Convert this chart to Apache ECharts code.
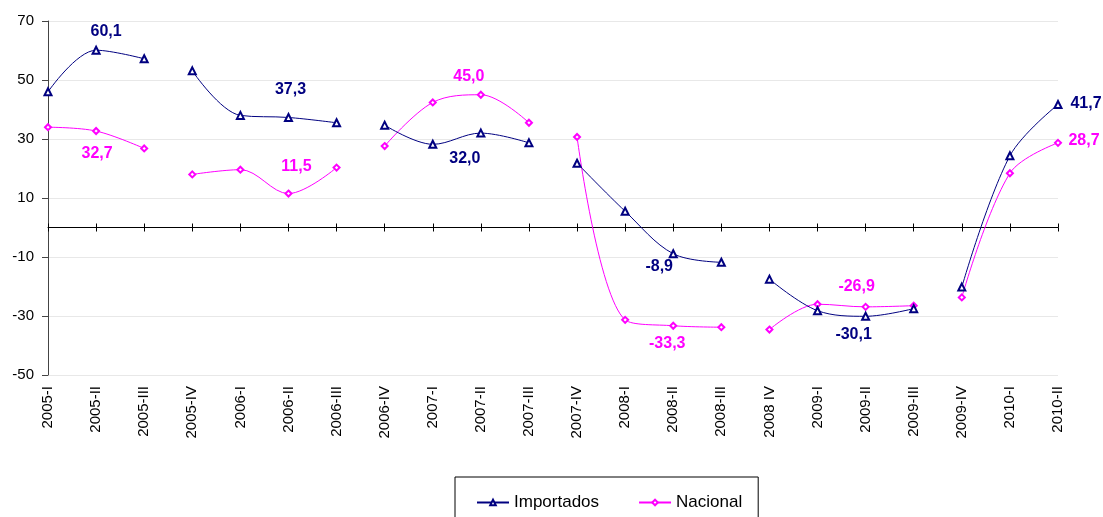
<!DOCTYPE html>
<html>
<head>
<meta charset="utf-8">
<script src="https://cdn.jsdelivr.net/npm/echarts@6/dist/echarts.min.js"></script>
<style>
  html, body { margin: 0; padding: 0; background: #fff; }
  #char { width: 1103px; height: 517px; }
</style>
</head>
<body>
<div id="char"></div>
<script>
var categories = ['2005-I', '2005-II', '2005-III', '2005-IV', '2006-I', '2006-II', '2006-III',
  '2006-IV', '2007-I', '2007-II', '2007-III', '2007-IV', '2008-I', '2008-II', '2008-III',
  '2008 IV', '2009-I', '2009-II', '2009-III', '2009-IV', '2010-I', '2010-II'];
var importados = [46.0, 60.1, 57.2, 53.1, 38.0, 37.3, 35.5, 34.7, 28.2, 32.0, 28.7,
  21.8, 5.5, -8.9, -11.8, -17.5, -28.2, -30.1, -27.5, -20.2, 24.3, 41.7];
var nacional = [34.0, 32.7, 26.8, 18.0, 19.6, 11.5, 20.3, 27.6, 42.4, 45.0, 35.5,
  30.7, -31.3, -33.3, -33.8, -34.6, -26.0, -26.9, -26.5, -23.7, 18.4, 28.7];
// tramos (la linea se corta entre el III y el IV trimestre)
var segments = [[0, 2], [3, 6], [7, 10], [11, 14], [15, 18], [19, 21]];
var yTicks = { min: -50, max: 70, interval: 20 };

// donde va cada etiqueta de valor (desplazamiento respecto al punto)
var labelOffsets = {
  Importados: { 1: [10, -19], 5: [2, -28], 9: [-16, 25], 13: [-14, 13], 17: [-12, 18], 21: [28, -1] },
  Nacional: { 1: [1, 23], 5: [8, -27], 9: [-12, -18], 13: [-6, 18], 17: [-9, -20], 21: [26, -2] }
};

var colors = { Importados: '#000080', Nacional: '#ff00ff' };
var symbols = { Importados: 'emptyTriangle', Nacional: 'emptyDiamond' };
var font = 'Liberation Sans, Arial, sans-serif';

function fmt(v) {
  return v.toFixed(1).replace('.', ',');
}

function buildSeries(name, values) {
  var out = [];
  segments.forEach(function (seg) {
    var data = values.map(function (v, i) {
      if (i < seg[0] || i > seg[1]) return null;
      var off = labelOffsets[name][i];
      if (!off) return v;
      return {
        value: v,
        label: {
          show: true,
          position: 'inside',
          offset: off,
          formatter: function (p) { return fmt(p.value); },
          color: colors[name],
          fontFamily: font,
          fontWeight: 'bold',
          fontSize: 16
        }
      };
    });
    out.push({
      name: name,
      type: 'line',
      data: data,
      smooth: 0.35,
      connectNulls: false,
      symbol: symbols[name],
      symbolSize: name === 'Importados' ? 7 : 6,
      color: colors[name],
      lineStyle: { width: 1, color: colors[name] },
      itemStyle: { color: colors[name], borderColor: colors[name], borderWidth: 1 },
      emphasis: { disabled: true },
      z: name === 'Importados' ? 3 : 2
    });
  });
  return out;
}

var myChart = echarts.init(document.getElementById('char'));
var option = {
  animation: false,
  textStyle: { fontFamily: font },
  grid: {
    left: 48,
    right: 45,
    top: 21,
    bottom: 142,
    outerBoundsMode: 'none'
  },
  legend: {
    data: ['Importados', 'Nacional'],
    left: 455,
    top: 477,
    orient: 'horizontal',
    padding: [17, 16, 30, 21],
    borderColor: '#000',
    borderWidth: 1,
    itemWidth: 32,
    itemHeight: 7,
    itemGap: 39,
    textStyle: { fontSize: 17, color: '#000', fontFamily: font }
  },
  xAxis: [
    {
      type: 'category',
      data: categories,
      boundaryGap: false,
      position: 'bottom',
      axisLine: { show: false, onZero: false },
      axisTick: { show: false },
      axisLabel: {
        rotate: 90,
        margin: 11,
        interval: 0,
        fontSize: 15,
        color: '#000'
      },
      splitLine: { show: false }
    },
    {
      type: 'category',
      data: categories,
      boundaryGap: false,
      position: 'bottom',
      axisLine: { show: true, onZero: true, lineStyle: { color: '#000', width: 1 } },
      axisTick: { show: true, interval: 0, length: 4, lineStyle: { color: '#000' } },
      axisLabel: { show: false },
      splitLine: { show: false }
    },
    {
      type: 'category',
      data: categories,
      boundaryGap: false,
      position: 'bottom',
      axisLine: { show: false, onZero: true, onZeroAxisIndex: 1 },
      axisTick: { show: true, inside: true, interval: 0, length: 4, lineStyle: { color: '#000' } },
      axisLabel: { show: false },
      splitLine: { show: false }
    }
  ],
  yAxis: [
    {
      type: 'value',
      min: yTicks.min,
      max: yTicks.max,
      interval: yTicks.interval,
      axisLine: { show: true, lineStyle: { color: '#444' } },
      axisTick: { show: true, length: 6, lineStyle: { color: '#444' } },
      axisLabel: { fontSize: 15, color: '#000', margin: 14 },
      splitLine: { show: true, lineStyle: { color: '#e8e8e8', width: 1 } }
    },
    {
      type: 'value',
      min: yTicks.min,
      max: yTicks.max,
      interval: yTicks.interval,
      show: false
    }
  ],
  series: buildSeries('Importados', importados).concat(buildSeries('Nacional', nacional))
};
myChart.setOption(option);
</script>
</body>
</html>
